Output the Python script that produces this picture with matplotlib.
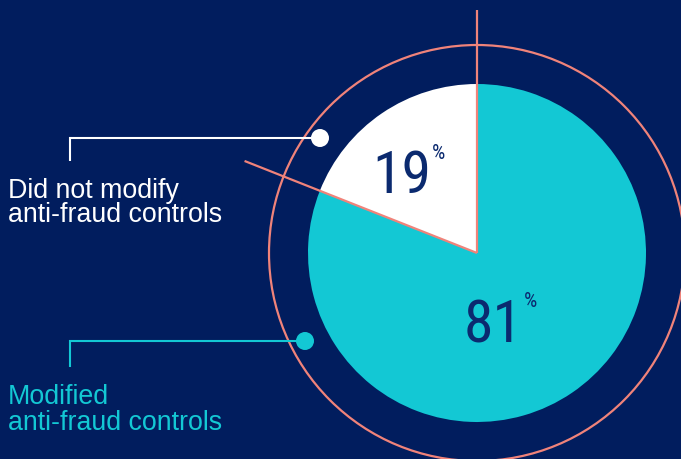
"""Share of organisations that modified anti-fraud controls (pie on navy)."""

import matplotlib
matplotlib.use("Agg")
import matplotlib.pyplot as plt
import numpy as np
from matplotlib import font_manager as fm
from matplotlib.patches import Circle

# data
labels = ["Did not modify\nanti-fraud controls", "Modified\nanti-fraud controls"]
shares = [19, 81]

BG = "#011d5e"
CYAN = "#13c8d4"
WHITE = "#ffffff"
SALMON = "#f0837a"
NUM = "#0b2a6f"

W, H = 681, 460


def Y(y):
    # image (top-down) pixel row -> axes y
    return H - y


def narrow_font():
    """Regular-weight condensed face for the big numbers, if one is installed."""
    pref = ["Roboto Condensed", "Open Sans Condensed", "Noto Sans",
            "Liberation Sans Narrow", "DejaVu Sans"]
    best, best_key = None, None
    for f in fm.fontManager.ttflist:
        tag = (str(f.stretch) + " " + f.name + " " + f.fname).lower()
        if "condensed" not in tag and "narrow" not in tag:
            continue
        if any(k in tag for k in ("extra", "semi", "ultra", "italic", "oblique")):
            continue
        w = f.weight if isinstance(f.weight, int) else fm.weight_dict.get(f.weight, 400)
        rank = next((i for i, p in enumerate(pref) if f.name.startswith(p)), len(pref))
        key = (abs(w - 400), rank)
        if best_key is None or key < best_key:
            best, best_key = f, key
    if best is None:
        return fm.FontProperties(family="Roboto")
    return fm.FontProperties(fname=best.fname)


fig = plt.figure(figsize=(W / 100, H / 100), dpi=100, facecolor=BG)
ax = fig.add_axes([0, 0, 1, 1])
ax.set_facecolor(BG)

cx, cy = 477, Y(254)
r_pie, r_ring = 169, 208

ax.pie(shares, colors=[WHITE, CYAN], startangle=90, radius=r_pie,
       center=(cx, cy), wedgeprops=dict(linewidth=0))

# outer ring
ax.add_patch(Circle((cx, cy), r_ring, fill=False, ec=SALMON, lw=1.6, zorder=3))

# salmon rays along the slice boundaries, running past the ring
ang0 = np.deg2rad(90)
ang1 = np.deg2rad(90 + 360 * shares[0] / 100)
ax.plot([cx, cx + 243 * np.cos(ang0)], [cy, cy + 243 * np.sin(ang0)],
        color=SALMON, lw=1.6, solid_capstyle="butt", zorder=4)
ax.plot([cx, cx + 250 * np.cos(ang1)], [cy, cy + 250 * np.sin(ang1)],
        color=SALMON, lw=1.6, solid_capstyle="butt", zorder=4)

# percentage labels: number plus small raised percent sign
nf = narrow_font()
pct_spots = [(431, 193, 147), (523, 343, 295)]   # right edge, baseline, top
for val, (xr, base, top) in zip(shares, pct_spots):
    ax.text(xr, Y(base), f"{val}", ha="right", va="baseline",
            fontproperties=nf, fontsize=43, color=NUM, zorder=5)
    ax.text(xr + 1, Y(top - 3), "%", ha="left", va="top",
            fontproperties=nf, fontsize=15, color=NUM, zorder=5)

# callouts: dot, elbow line, two-line label (last baseline, line spacing)
callouts = [
    dict(dot=(320, 139), elbow=(70, 162), base=222, ls=0.88, color=WHITE),
    dict(dot=(305, 342), elbow=(70, 368), base=430, ls=1.02, color=CYAN),
]
lab_font = ["Liberation Sans", "DejaVu Sans"]
for lab, c in zip(labels, callouts):
    dx, dy = c["dot"]
    ex, ey = c["elbow"]
    ax.plot([dx, ex, ex], [Y(dy), Y(dy), Y(ey)], color=c["color"], lw=1.5,
            solid_capstyle="butt", solid_joinstyle="miter", zorder=5)
    ax.add_patch(Circle((dx, Y(dy)), 9, color=c["color"], lw=0, zorder=6))
    ax.text(8, Y(c["base"]), lab, ha="left", va="baseline", fontsize=19.3,
            linespacing=c["ls"], color=c["color"], family=lab_font)

ax.set_xlim(0, W)
ax.set_ylim(0, H)
ax.set_aspect("equal")
ax.axis("off")

fig.savefig("out.png", dpi=100, facecolor=BG)
plt.close(fig)
